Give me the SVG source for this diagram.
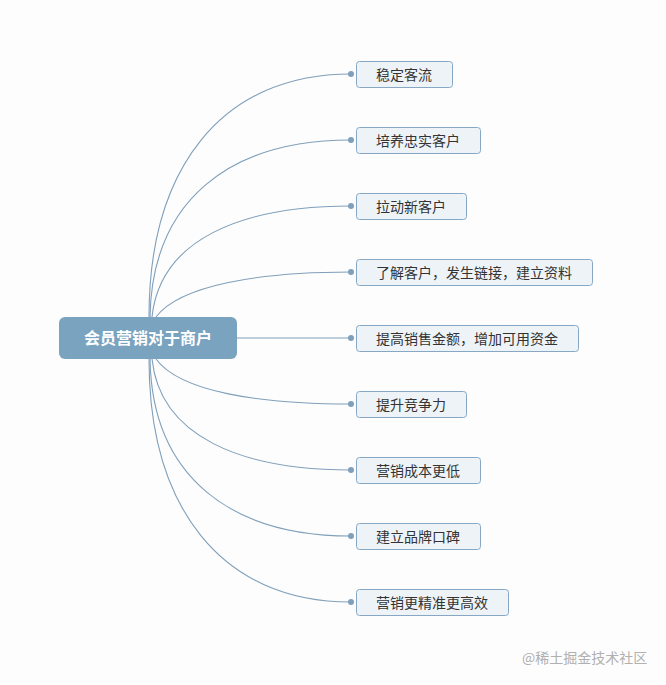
<svg xmlns="http://www.w3.org/2000/svg" width="666" height="685" viewBox="0 0 666 685">
<style>
.bg{fill:#fdfdfd}
.c{fill:none;stroke:#7f9fba;stroke-width:1.1}
.dot{fill:#7f9fba}
.box{fill:#eef3f8;stroke:#86a8c4;stroke-width:1}
.t{font-family:"Noto Sans CJK SC","Liberation Sans",sans-serif;font-size:14px;fill:#333}
.root{fill:#7aa3c0}
.rt{font-family:"Noto Sans CJK SC","Liberation Sans",sans-serif;font-size:16px;font-weight:bold;fill:#fff}
.wm{font-family:"Noto Sans CJK SC","Liberation Sans",sans-serif;font-size:14px;fill:#b0b0b0}
</style>
<rect class="bg" width="666" height="685"/>
<g id="connectors">
<path class="c" d="M149,317 C149,170 220,74 351,74"/>
<path class="c" d="M150,317 C152,200 230,140 351,140"/>
<path class="c" d="M152,317 C160,240 240,206 351,206"/>
<path class="c" d="M156,317 C180,285 260,272 351,272"/>
<path class="c" d="M237,338 L351,338"/>
<path class="c" d="M156,359 C180,392 260,404 351,404"/>
<path class="c" d="M152,359 C160,436 240,470 351,470"/>
<path class="c" d="M150,359 C152,476 230,536 351,536"/>
<path class="c" d="M149,359 C149,506 220,602 351,602"/>
<circle class="dot" cx="351" cy="74" r="3"/>
<circle class="dot" cx="351" cy="140" r="3"/>
<circle class="dot" cx="351" cy="206" r="3"/>
<circle class="dot" cx="351" cy="272" r="3"/>
<circle class="dot" cx="351" cy="338" r="3"/>
<circle class="dot" cx="351" cy="404" r="3"/>
<circle class="dot" cx="351" cy="470" r="3"/>
<circle class="dot" cx="351" cy="536" r="3"/>
<circle class="dot" cx="351" cy="602" r="3"/>
</g>
<g id="root">
<rect class="root" x="59" y="317" width="178" height="42" rx="6"/>
<text class="rt" x="148" y="344" text-anchor="middle">会员营销对于商户</text>
</g>
<g id="n1"><rect class="box" x="356.5" y="61.5" width="96" height="26" rx="3"/><text class="t" x="376" y="79.5">稳定客流</text></g>
<g id="n2"><rect class="box" x="356.5" y="127.5" width="124" height="26" rx="3"/><text class="t" x="376" y="145.5">培养忠实客户</text></g>
<g id="n3"><rect class="box" x="356.5" y="193.5" width="110" height="26" rx="3"/><text class="t" x="376" y="211.5">拉动新客户</text></g>
<g id="n4"><rect class="box" x="356.5" y="259.5" width="236" height="26" rx="3"/><text class="t" x="376" y="277.5">了解客户，发生链接，建立资料</text></g>
<g id="n5"><rect class="box" x="356.5" y="325.5" width="222" height="26" rx="3"/><text class="t" x="376" y="343.5">提高销售金额，增加可用资金</text></g>
<g id="n6"><rect class="box" x="356.5" y="391.5" width="110" height="26" rx="3"/><text class="t" x="376" y="409.5">提升竞争力</text></g>
<g id="n7"><rect class="box" x="356.5" y="457.5" width="124" height="26" rx="3"/><text class="t" x="376" y="475.5">营销成本更低</text></g>
<g id="n8"><rect class="box" x="356.5" y="523.5" width="124" height="26" rx="3"/><text class="t" x="376" y="541.5">建立品牌口碑</text></g>
<g id="n9"><rect class="box" x="356.5" y="589.5" width="152" height="26" rx="3"/><text class="t" x="376" y="607.5">营销更精准更高效</text></g>
<text class="wm" x="522" y="663">@稀土掘金技术社区</text>
</svg>
